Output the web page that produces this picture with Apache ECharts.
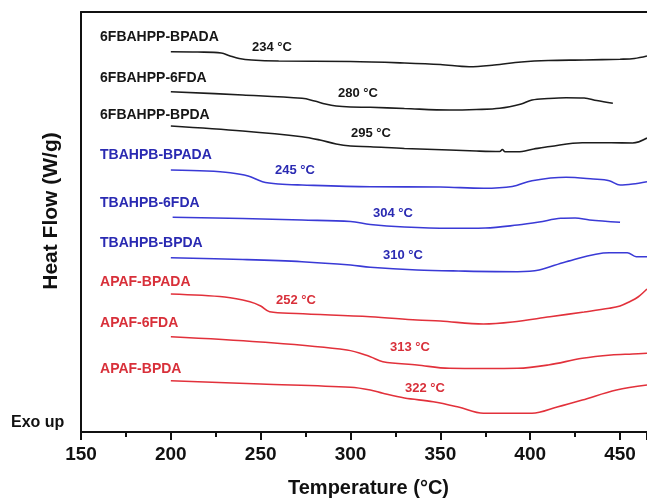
<!DOCTYPE html>
<html>
<head>
<meta charset="utf-8">
<script src="https://cdn.jsdelivr.net/npm/echarts@6/dist/echarts.min.js"></script>
<style>html,body{margin:0;padding:0;background:#fff}#c{width:647px;height:501px}</style>
</head>
<body>
<div id="c"></div>
<script>
// x tick labels (°C)
const xTicks = [150, 200, 250, 300, 350, 400, 450];
// curve names (top to bottom)
const names = ['6FBAHPP-BPADA','6FBAHPP-6FDA','6FBAHPP-BPDA','TBAHPB-BPADA','TBAHPB-6FDA','TBAHPB-BPDA','APAF-BPADA','APAF-6FDA','APAF-BPDA'];
// Tg annotations
const tgLabels = ['234 °C','280 °C','295 °C','245 °C','304 °C','310 °C','252 °C','313 °C','322 °C'];
// DSC curves: [temperature °C, heat flow (arbitrary units, stacked offsets)]
const c6F_BPADA = [[200,380.3],[215,380],[228,379],[233,376],[238,373.5],[245,372],[260,371],[300,370.5],[330,369],[350,367.5],[366,365.3],[380,367],[395,370],[410,371.5],[430,372],[450,372.8],[458,373.5],[465,376]];
const c6F_6FDA = [[200,340.3],[240,337],[273,333.7],[280,331],[286,328],[292,326],[300,325],[311,324.7],[330,323.5],[355,322],[370,322.5],[383,323.7],[395,328],[401,332],[410,333.5],[420,334.3],[430,334],[437,331.5],[446,328.7]];
const c6F_BPDA = [[200,306],[240,301],[273,295.3],[283,292],[292,288],[300,286],[311,285.3],[330,283.5],[355,282],[370,281],[383,280.5],[384.5,282.5],[386,280.3],[393,280.3],[402,283],[411,285.5],[429,289.3],[445,289.3],[457,289],[465,294]];
const cTB_BPADA = [[200,262],[220,261],[233,259.3],[243,256],[251,250.3],[260,248],[273,247],[311,245.3],[350,245],[374,243.7],[390,245.5],[401,251.3],[420,254.7],[435,253],[444,251.3],[450,247],[457,248],[465,250.3]];
const cTB_6FDA = [[201,214.7],[240,213.5],[273,212],[300,210.5],[311,207.5],[330,205],[355,203.7],[375,204],[393,207],[405,210],[417,213.7],[425,214],[433,212],[450,209.7]];
const cTB_BPDA = [[200,174.3],[240,172.5],[273,170.3],[300,167],[311,164.7],[337,162],[360,161],[393,160.3],[405,162],[420,170.3],[444,179.3],[454,179.3],[459,175.3],[465,175.3]];
const cAP_BPADA = [[200,138],[230,135],[244,130.3],[250,126],[255,120.3],[270,118.5],[311,115.3],[337,112],[350,111],[374,108],[390,110],[411,115.3],[430,120],[444,123.7],[450,126],[455,130],[460,135],[465,143]];
const cAP_6FDA = [[200,95.3],[250,90],[298,82],[311,75.3],[318,70.3],[337,67],[355,63.7],[375,63.5],[393,63.7],[410,67],[429,73.7],[445,77],[457,78],[465,78.7]];
const cAP_BPDA = [[200,51.3],[250,48],[300,44.7],[311,42],[318,38.7],[330,34],[346,30.3],[360,25],[374,18.7],[390,18.7],[401,18.7],[415,25],[429,32],[448,42],[465,47]];
// label anchors [temperature, value]
const nameAnchors = [[160.6,395],[160.6,354],[160.6,317],[160.6,277],[160.6,229],[160.6,189],[160.6,150],[160.6,109],[160.6,63]];
const tgAnchors = [[256.3,385],[304.1,339],[311.4,299],[269.1,262],[323.6,219],[329.2,177],[269.6,132],[333.1,85],[341.4,44]];

const curves = [c6F_BPADA,c6F_6FDA,c6F_BPDA,cTB_BPADA,cTB_6FDA,cTB_BPDA,cAP_BPADA,cAP_6FDA,cAP_BPDA];
const lineColors = ['#1c1c1c','#1c1c1c','#1c1c1c','#3a3ad6','#3a3ad6','#3a3ad6','#e2313b','#e2313b','#e2313b'];
const textColors = ['#161616','#161616','#161616','#2a2ab2','#2a2ab2','#2a2ab2','#d8303a','#d8303a','#d8303a'];
const FONT = 'Arial, "Liberation Sans", sans-serif';

const series = curves.map((d, i) => ({
  type: 'line', name: names[i], data: d, showSymbol: false, smooth: 0.35,
  lineStyle: {color: lineColors[i], width: 1.6}, silent: true, z: 3
}));
series.push({
  type: 'scatter', symbolSize: 0, silent: true, z: 5, itemStyle: {opacity: 1},
  data: nameAnchors.map((p, i) => ({value: p, label: {show: true, formatter: names[i], color: textColors[i]}})),
  label: {show: true, position: 'right', distance: 0, opacity: 1, fontFamily: FONT, fontWeight: 'bold', fontSize: 14}
});
series.push({
  type: 'scatter', symbolSize: 0, silent: true, z: 5, itemStyle: {opacity: 1},
  data: tgAnchors.map((p, i) => ({value: p, label: {show: true, formatter: tgLabels[i], color: textColors[i]}})),
  label: {show: true, position: 'inside', opacity: 1, fontFamily: FONT, fontWeight: 'bold', fontSize: 13}
});

const chart = echarts.init(document.getElementById('c'), null, {renderer: 'canvas'});
chart.setOption({
  animation: false,
  backgroundColor: '#fff',
  grid: {left: 81, right: 0, top: 12, bottom: 69, containLabel: false},
  xAxis: [{
    type: 'value', min: 150, max: 465, interval: 50, position: 'bottom',
    axisLine: {show: true, lineStyle: {color: '#111', width: 2}},
    axisTick: {show: true, inside: false, length: 8, lineStyle: {color: '#111', width: 2}},
    minorTick: {show: true, splitNumber: 2, length: 5, lineStyle: {color: '#111', width: 2}},
    splitLine: {show: false},
    axisLabel: {show: true, margin: 13, color: '#111', fontFamily: FONT, fontWeight: 'bold', fontSize: 19,
      showMaxLabel: false,
      formatter: v => xTicks.indexOf(v) >= 0 ? String(v) : ''}
  }, {
    type: 'value', min: 150, max: 465, position: 'top',
    axisLine: {show: true, lineStyle: {color: '#111', width: 2}},
    axisTick: {show: false}, axisLabel: {show: false}, splitLine: {show: false}
  }],
  yAxis: {
    type: 'value', min: 0, max: 420,
    axisLine: {show: true, lineStyle: {color: '#111', width: 2}},
    axisTick: {show: false}, axisLabel: {show: false}, splitLine: {show: false}
  },
  graphic: [
    {type: 'text', left: 288, top: 478, style: {text: 'Temperature (°C)', font: 'bold 20px ' + FONT, fill: '#111'}},
    {type: 'text', x: 51, y: 211, rotation: Math.PI / 2, style: {text: 'Heat Flow (W/g)', font: 'bold 21px ' + FONT, fill: '#111', align: 'center', verticalAlign: 'middle'}},
    {type: 'text', left: 11, top: 415, style: {text: 'Exo up', font: 'bold 16px ' + FONT, fill: '#111'}}
  ],
  series: series
});
</script>
</body>
</html>
